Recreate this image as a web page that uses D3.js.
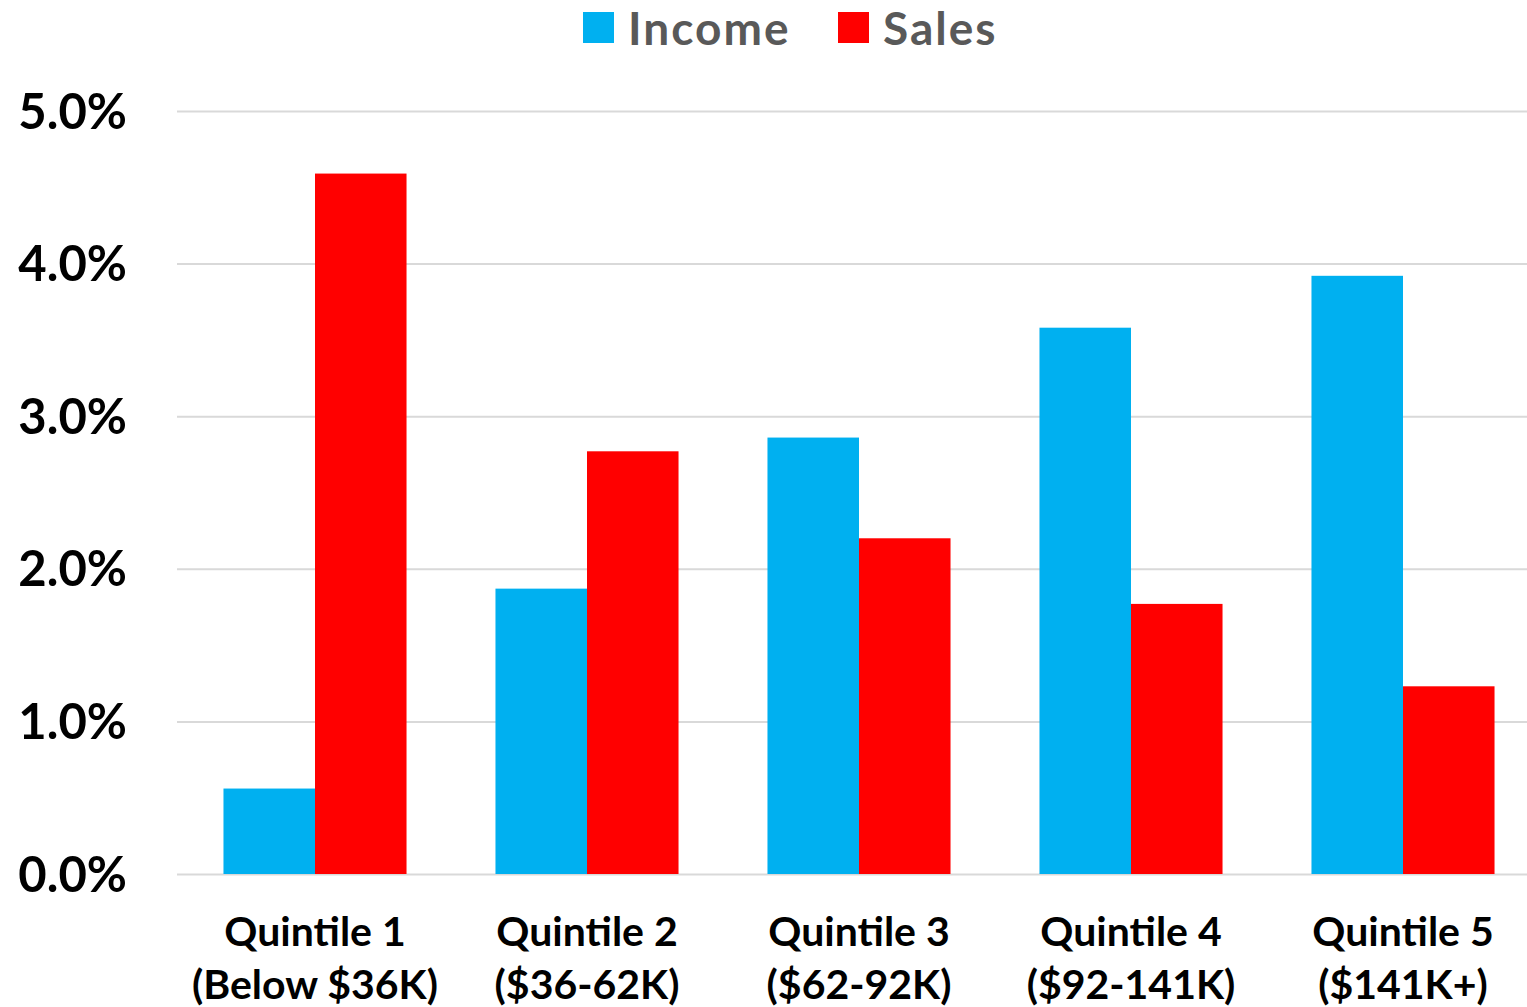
<!DOCTYPE html>
<html><head><meta charset="utf-8">
<script src="https://cdn.jsdelivr.net/npm/d3@7"></script>
<style>html,body{margin:0;padding:0;background:#fff;overflow:hidden}</style>
</head><body>
<svg id="c" width="1527" height="1007"></svg>
<script>
const categories = ["Quintile 1|(Below $36K)", "Quintile 2|($36-62K)", "Quintile 3|($62-92K)", "Quintile 4|($92-141K)", "Quintile 5|($141K+)"];
const seriesNames = ["Income", "Sales"];
const income = [0.56, 1.87, 2.86, 3.58, 3.92];
const sales = [4.59, 2.77, 2.20, 1.77, 1.23];
const yTicks = [0, 1, 2, 3, 4, 5];
const colors = ["#00B0F0", "#FF0000"];

const svg = d3.select("#c");
const font = "Lato, 'Open Sans', sans-serif";
const y = d3.scaleLinear().domain([0, 5]).range([874, 111]);
const x0 = d3.scaleBand().domain(categories).range([179, 1539]).paddingInner(0.327).paddingOuter(0.1635);
const x1 = d3.scaleBand().domain(seriesNames).range([0, x0.bandwidth()]);
const vals = [income, sales];

// gridlines
const yAxis = d3.axisLeft(y).tickValues(yTicks).tickSize(-(1539 - 177)).tickFormat(d => d.toFixed(1) + "%");
const ga = svg.append("g").attr("transform", "translate(177,0)").call(yAxis);
ga.select(".domain").remove();
ga.selectAll(".tick line").attr("stroke", "#D9D9D9").attr("stroke-width", 2);
ga.selectAll(".tick text").attr("font-family", font).attr("font-weight", "bold").attr("font-size", 49).attr("fill", "#000").attr("dy", "0.35em").attr("x", -50);

// bars
categories.forEach((c, i) => {
  const g = svg.append("g").attr("transform", `translate(${x0(c)},0)`);
  seriesNames.forEach((s, j) => {
    g.append("rect").attr("x", x1(s)).attr("width", x1.bandwidth())
      .attr("y", y(vals[j][i])).attr("height", y(0) - y(vals[j][i])).attr("fill", colors[j]);
  });
});

// x axis labels
const xa = svg.append("g");
categories.forEach(c => {
  const lines = c.split("|");
  const t = xa.append("text").attr("text-anchor", "middle").attr("font-family", font).attr("font-weight", "bold").attr("font-size", 41).attr("fill", "#000");
  t.append("tspan").attr("x", x0(c) + x0.bandwidth() / 2).attr("y", 946).text(lines[0]);
  t.append("tspan").attr("x", x0(c) + x0.bandwidth() / 2).attr("y", 999).text(lines[1]);
});

// legend
const legX = [583, 838];
seriesNames.forEach((s, j) => {
  svg.append("rect").attr("x", legX[j]).attr("y", 12).attr("width", 31).attr("height", 31).attr("fill", colors[j]);
  svg.append("text").attr("x", legX[j] + 45).attr("y", 45).attr("font-family", font).attr("font-weight", "bold").attr("font-size", 46).attr("letter-spacing", 2).attr("fill", "#595959").text(s);
});
</script>
</body></html>
